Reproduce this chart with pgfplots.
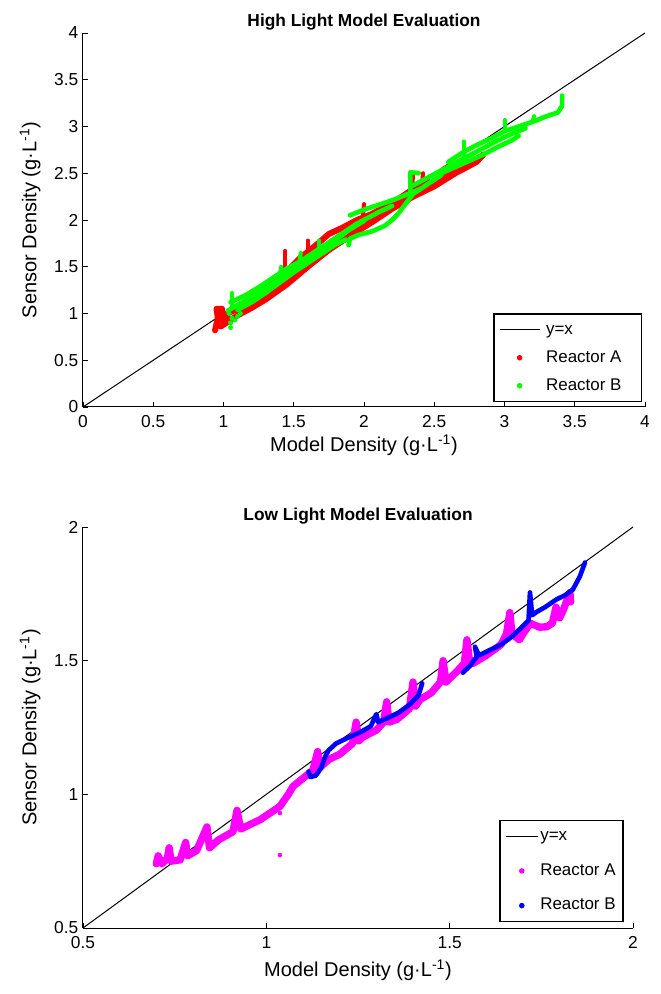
\documentclass[border=0pt]{standalone}
\usepackage{fontspec}
\setmainfont{Liberation Sans}
\usepackage{pgfplots}
\pgfplotsset{compat=1.18}
\definecolor{mred}{RGB}{255,0,0}
\definecolor{mgreen}{RGB}{0,255,0}
\definecolor{mmag}{RGB}{255,0,255}
\definecolor{mblue}{RGB}{0,0,255}

\pgfplotsset{
  panel/.style={
    scale only axis,
    axis lines=left,
    axis line style={-, line width=0.75pt},
    tick align=inside,
    major tick length=3.75pt,
    tick style={black, line width=0.6pt},
    tick label style={font=\fontsize{13}{15}\selectfont,
      /pgf/number format/assume math mode=true},
    xticklabel style={yshift=-3pt},
    title style={font=\fontsize{13}{15}\selectfont\bfseries,
      at={(axis description cs:0.5,1)}, anchor=base, yshift=-0.9pt},
    label style={font=\fontsize{15}{18}\selectfont},
    legend cell align=left,
    legend style={draw=black, line width=1.1pt, anchor=south east,
      font=\fontsize{12.7}{15}\selectfont, inner sep=4pt,
      nodes={inner sep=1.5pt, text height=9.5pt, text depth=3pt}},
  },
  dense/.style={line width=#1, line join=round, line cap=round, forget plot},
}

\begin{document}
\begin{tikzpicture}
\useasboundingbox (-62.25pt,-49.5pt) rectangle (432.75pt,696pt);

% ---------------- high light ----------------
\begin{axis}[panel,
  at={(0pt,390.75pt)}, anchor=south west,
  width=421.5pt, height=280.5pt,
  xmin=0, xmax=4, ymin=0, ymax=4,
  xtick={0,0.5,...,4}, ytick={0,0.5,...,4},
  title={High Light Model Evaluation},
  xlabel={Model Density (g·L\textsuperscript{-1})},
  ylabel={Sensor Density (g·L\textsuperscript{-1})},
  xlabel style={at={(axis description cs:0.5,-0.12)}, anchor=base},
  ylabel style={at={(axis description cs:-0.094,0.5)}, anchor=center},
  legend style={at={(0.995,0.013)}, row sep=5.5pt, column sep=3pt},
]
\addplot[black, line width=0.75pt,
  legend image code/.code={\draw[black, line width=0.75pt] (0pt,0pt) -- (30pt,0pt);}]
  coordinates {(0,0) (4,4)};
\addlegendentry{y=x}
\addlegendimage{legend image code/.code={\fill[mred] (15pt,0pt) circle (1.5pt);}}
\addlegendentry{\makebox[66pt][l]{Reactor A}}
\addlegendimage{legend image code/.code={\fill[mgreen] (15pt,0pt) circle (1.5pt);}}
\addlegendentry{\makebox[66pt][l]{Reactor B}}

% Reactor A
\addplot[mred, dense=4.5pt] coordinates {(0.95,0.88) (0.97,0.97) (1.0,0.98) (1.07,1.03) (1.17,1.09) (1.28,1.19) (1.4,1.31) (1.5,1.44) (1.59,1.56) (1.69,1.68) (1.78,1.78) (1.88,1.88) (2.0,1.99) (2.11,2.09) (2.23,2.19) (2.35,2.29) (2.47,2.38) (2.59,2.47) (2.71,2.57) (2.83,2.68)};
\addplot[mred, dense=4.5pt] coordinates {(0.98,0.86) (1.1,0.98) (1.2,1.06) (1.3,1.15) (1.45,1.31) (1.6,1.5) (1.75,1.68) (1.9,1.83) (2.05,1.97) (2.2,2.12) (2.35,2.25) (2.5,2.36) (2.65,2.5) (2.8,2.62) (2.85,2.7)};
\addplot[mred, dense=4.5pt] coordinates {(1.45,1.45) (1.55,1.6) (1.65,1.72) (1.75,1.85) (1.85,1.92) (1.95,2.0) (2.05,2.06) (2.2,2.18) (2.35,2.33) (2.45,2.42)};
\addplot[mred, dense=4.5pt] coordinates {(0.94,0.82) (0.96,0.95) (0.95,1.05) (0.99,1.05) (1.0,0.9) (1.04,0.95)};
\addplot[mred, dense=3pt] coordinates {(1.44,1.42) (1.44,1.67)};
\addplot[mred, dense=3pt] coordinates {(1.6,1.58) (1.6,1.78)};
\addplot[mred, dense=3pt] coordinates {(1.99,2.0) (2.0,2.17)};
\addplot[mred, dense=3pt] coordinates {(2.34,2.3) (2.35,2.5)};
\addplot[mred, dense=3pt] coordinates {(2.41,2.33) (2.42,2.5)};
\addplot[mred, dense=3pt] coordinates {(2.56,2.45) (2.57,2.56)};

% Reactor B
\addplot[mgreen, dense=3.5pt] coordinates {(1.03,1.03) (1.1,1.09) (1.2,1.18) (1.3,1.27) (1.4,1.37) (1.5,1.49) (1.6,1.59) (1.7,1.69) (1.8,1.79) (1.9,1.9) (2.0,1.99)};
\addplot[mgreen, dense=3.5pt] coordinates {(1.05,1.12) (1.15,1.19) (1.25,1.28) (1.35,1.38) (1.45,1.48) (1.55,1.56) (1.65,1.66) (1.75,1.76) (1.85,1.86) (1.95,1.96) (2.1,2.08) (2.2,2.15)};
\addplot[mgreen, dense=3.5pt] coordinates {(1.1,1.04) (1.2,1.12) (1.3,1.22) (1.4,1.33) (1.5,1.44) (1.6,1.54) (1.7,1.64) (1.8,1.74) (1.87,1.79)};
\addplot[mgreen, dense=3pt] coordinates {(1.06,1.08) (1.06,1.22)};
\addplot[mgreen, dense=3pt] coordinates {(1.4,1.38) (1.41,1.5)};
\addplot[mgreen, dense=3pt] coordinates {(1.54,1.55) (1.55,1.65)};
\addplot[mgreen, dense=3pt] coordinates {(1.68,1.66) (1.68,1.78)};
\addplot[mgreen, only marks, mark=*, mark size=1.6pt, forget plot] coordinates {(1.05,0.85) (1.05,0.9) (1.06,0.95) (1.08,0.93) (1.1,0.97) (1.12,1.0) (1.04,1.0)};
\addplot[mgreen, dense=3.5pt] coordinates {(1.9,2.05) (2.0,2.11) (2.1,2.16) (2.2,2.21) (2.3,2.27) (2.4,2.33)};
\addplot[mgreen, dense=3.5pt] coordinates {(2.33,2.26) (2.33,2.51) (2.39,2.5)};
\addplot[mgreen, dense=3.5pt] coordinates {(1.89,1.73) (1.9,1.8) (1.96,1.84) (2.06,1.88) (2.15,1.94) (2.2,2.0) (2.25,2.08) (2.3,2.18) (2.35,2.28) (2.45,2.38) (2.55,2.48)};
\addplot[mgreen, dense=3.5pt] coordinates {(2.35,2.37) (2.45,2.45) (2.55,2.53) (2.65,2.61) (2.75,2.69) (2.85,2.77) (2.95,2.85) (3.05,2.92) (3.15,2.98)};
\addplot[mgreen, dense=3.5pt] coordinates {(2.6,2.62) (2.7,2.72) (2.8,2.8) (2.9,2.87) (3.0,2.95) (3.1,3.0) (3.2,3.05) (3.3,3.11) (3.38,3.15) (3.41,3.22) (3.41,3.33)};
\addplot[mgreen, dense=3.5pt] coordinates {(2.55,2.5) (2.7,2.6) (2.85,2.7) (2.95,2.78) (3.05,2.85) (3.1,2.9)};
\addplot[mgreen, dense=3pt] coordinates {(2.71,2.68) (2.71,2.84)};
\addplot[mgreen, dense=3pt] coordinates {(3.0,2.95) (3.0,3.07)};
\addplot[mgreen, dense=3pt] coordinates {(3.2,3.05) (3.21,3.11)};
\end{axis}

% ---------------- low light ----------------
\begin{axis}[panel,
  at={(0pt,0pt)}, anchor=south west,
  width=412.5pt, height=300.75pt,
  xmin=0.5, xmax=2, ymin=0.5, ymax=2,
  xtick={0.5,1,1.5,2}, ytick={0.5,1,1.5,2},
  title={Low Light Model Evaluation},
  xlabel={Model Density (g·L\textsuperscript{-1})},
  ylabel={Sensor Density (g·L\textsuperscript{-1})},
  xlabel style={at={(axis description cs:0.5,-0.122)}, anchor=base},
  ylabel style={at={(axis description cs:-0.096,0.5)}, anchor=center},
  legend style={at={(0.983,0.015)}, row sep=10.5pt},
]
\addplot[black, line width=0.75pt,
  legend image code/.code={\draw[black, line width=0.75pt] (0pt,0pt) -- (24pt,0pt);}]
  coordinates {(0.5,0.5) (2,2)};
\addlegendentry{y=x}
\addlegendimage{legend image code/.code={\fill[mmag] (12pt,0pt) circle (1.5pt);}}
\addlegendentry{Reactor A}
\addlegendimage{legend image code/.code={\fill[mblue] (12pt,0pt) circle (1.5pt);}}
\addlegendentry{Reactor B}

% Reactor A
\addplot[mmag, dense=5.5pt] coordinates {(0.70,0.74) (0.705,0.77) (0.715,0.74) (0.73,0.76) (0.735,0.80) (0.74,0.75) (0.765,0.755) (0.78,0.82) (0.785,0.77) (0.81,0.79) (0.838,0.878) (0.845,0.80) (0.87,0.83) (0.909,0.86) (0.92,0.94) (0.93,0.87) (0.96,0.89) (0.983,0.905) (1.01,0.93) (1.037,0.955) (1.06,1.0) (1.073,1.03) (1.1,1.06) (1.127,1.09) (1.14,1.16) (1.146,1.10) (1.17,1.13) (1.20,1.15) (1.235,1.19) (1.245,1.27) (1.252,1.2) (1.264,1.215) (1.3,1.24) (1.32,1.27) (1.328,1.346) (1.335,1.27) (1.356,1.28) (1.39,1.32) (1.40,1.42) (1.407,1.33) (1.419,1.354) (1.45,1.38) (1.475,1.42) (1.482,1.50) (1.49,1.42) (1.52,1.46) (1.54,1.49) (1.547,1.578) (1.555,1.49) (1.564,1.49) (1.6,1.52) (1.64,1.56) (1.655,1.60) (1.664,1.68) (1.67,1.6) (1.69,1.578) (1.7,1.6) (1.72,1.64) (1.745,1.625) (1.765,1.627) (1.78,1.64) (1.79,1.70) (1.8,1.66) (1.81,1.69) (1.828,1.755) (1.83,1.72)};
\addplot[mmag, only marks, mark=*, mark size=1.5pt, forget plot] coordinates {(1.037,0.93) (1.037,0.773)};

% Reactor B
\addplot[mblue, dense=3.5pt] coordinates {(1.115,1.085) (1.12,1.065) (1.135,1.07) (1.15,1.10) (1.16,1.14) (1.17,1.165) (1.19,1.19) (1.22,1.21) (1.26,1.235) (1.285,1.255) (1.30,1.30) (1.305,1.27) (1.33,1.285) (1.36,1.305) (1.39,1.335) (1.415,1.37) (1.425,1.415)};
\addplot[mblue, dense=3.5pt] coordinates {(1.536,1.455) (1.555,1.48) (1.574,1.515) (1.569,1.552) (1.58,1.52) (1.61,1.54) (1.64,1.56) (1.67,1.59) (1.70,1.63) (1.715,1.65) (1.719,1.755) (1.725,1.67) (1.738,1.683) (1.76,1.70) (1.79,1.728) (1.815,1.745) (1.836,1.766) (1.855,1.815) (1.869,1.867)};
\end{axis}
\end{tikzpicture}
\end{document}
